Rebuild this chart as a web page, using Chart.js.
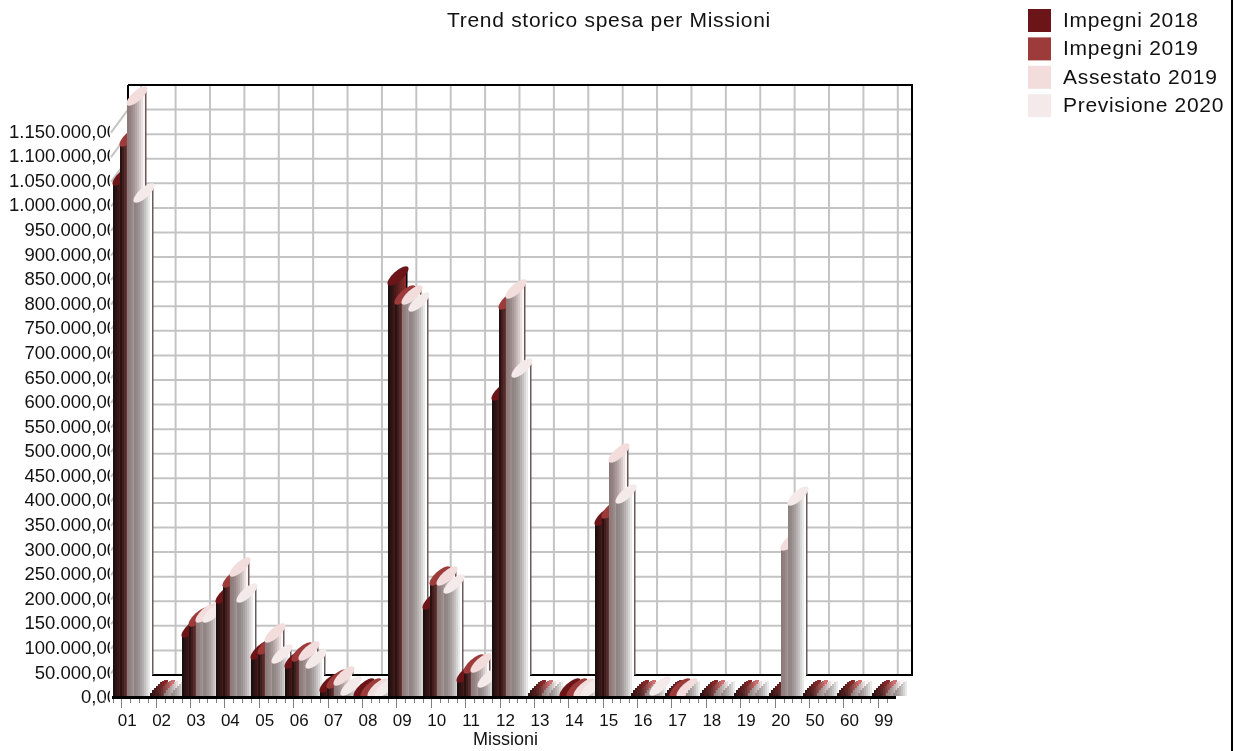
<!DOCTYPE html>
<html>
<head>
<meta charset="utf-8">
<title>Trend storico spesa per Missioni</title>
<script src="https://cdn.jsdelivr.net/npm/chart.js@4/dist/chart.umd.min.js"></script>
<style>
  html, body { margin: 0; padding: 0; background: #fff; }
  canvas { display: block; }
</style>
</head>
<body>
<canvas id="missioniChart" width="1241" height="751"></canvas>
<script>
// ── Data ───────────────────────────────────────────────────────

const chartTitle = "Trend storico spesa per Missioni";
const axisTitle = "Missioni";
const missioni = ["01","02","03","04","05","06","07","08","09","10","11","12","13","14","15","16","17","18","19","20","50","60","99"];

const impegni2018 = [1043000,0,124000,193000,79000,61000,12000,3000,840000,181000,33000,606000,0,3000,352000,0,0,0,0,0,0,0,0];
const impegni2019 = [1123000,0,146000,226000,90000,75000,20000,3000,801000,230000,51000,791000,0,3000,366000,0,3000,0,0,0,0,0,0];
const assestato2019 = [1206000,0,155000,248000,114000,77000,26000,3000,801000,230000,53000,814000,0,3000,480000,0,3000,0,0,301000,0,0,0];
const previsione2020 = [1009000,0,155000,195000,71000,61000,6000,3000,787000,213000,22000,653000,0,3000,397000,6000,0,0,0,393000,0,0,0];

const yMax = 1200000;
const yStep = 50000;

// ── Look ───────────────────────────────────────────────────────

const FONT = '"Liberation Sans", Arial, sans-serif';
const DEPTH_X = 17, DEPTH_Y = 23;      // back wall offset from the front plane
const CYL_W = 20, CYL_RISE = 18;       // each bar is a 20px cylinder seen from above
const CYL_CAP = 5;                     // half thickness of the slanted top
const STRIP = 2;

const shades = [
  { top: "#6B1518", from: [28, 15, 15], to: [138, 43, 43], edge: "#000000", gamma: 1 },
  { top: "#9D3A3A", from: [42, 18, 18], to: [208, 112, 112], edge: "#3a1515", gamma: 1 },
  { top: "#F2DCDC", from: [141, 123, 123], to: [253, 245, 245], edge: "#6a5555", gamma: 1.5 },
  { top: "#F5EAEA", from: [142, 132, 132], to: [255, 255, 255], edge: "#6a5a5a", gamma: 1.5 },
];

function formatIt(v) {
  const whole = String(v).replace(/\B(?=(\d{3})+(?!\d))/g, ".");
  return whole + ",00";
}

function line(ctx, x1, y1, x2, y2) {
  ctx.beginPath();
  ctx.moveTo(x1, y1);
  ctx.lineTo(x2, y2);
  ctx.stroke();
}

// ── Plugin: fake 3D box, cylinders, legend ─────────────────────

function drawWalls(chart) {
  const { ctx, scales: { x, y } } = chart;
  const left = x.left + 18, right = left + 784;
  const back = (v) => y.getPixelForValue(v) - DEPTH_Y;

  ctx.save();
  ctx.strokeStyle = "#c4c4c4";
  ctx.lineWidth = 2;
  for (let v = yStep; v < yMax; v += yStep) {
    line(ctx, left, back(v), right, back(v));
    line(ctx, left, back(v), left - DEPTH_X, y.getPixelForValue(v));
  }
  missioni.forEach((m, i) => {
    const gx = x.getPixelForTick(i) + 14;
    line(ctx, gx, back(yMax), gx, back(0));
  });
  ctx.strokeStyle = "#000";
  line(ctx, left, back(yMax), right + 1, back(yMax));
  line(ctx, right, back(yMax), right, back(0));
  line(ctx, left, back(yMax), left, back(0));
  line(ctx, left, back(0), right + 1, back(0));
  ctx.restore();
}

function drawCylinder(ctx, el, shade, isZero) {
  const x0 = Math.round(el.x - el.width / 2);
  const yTop = Math.round(el.y), base = Math.round(el.base) - 2;
  const n = Math.floor(CYL_W / STRIP);

  for (let i = 0; i < n; i++) {
    const t = Math.pow(Math.min(i / (n - 2), 1), shade.gamma);
    const sx = x0 + i * STRIP;
    let sy = yTop - CYL_RISE * (i * STRIP) / CYL_W;
    // nothing paid: no cap is drawn, the shaded body shows the whole slanted disc
    if (isZero) {
      const u = (2 * i + 1) / n - 1;
      sy -= CYL_CAP * Math.sqrt(1 - u * u);
    }
    sy = Math.round(sy);
    if (i === n - 1) {
      const edgeBottom = base - DEPTH_Y + 2;
      if (edgeBottom > sy) {
        ctx.fillStyle = shade.edge;
        ctx.fillRect(sx, sy, STRIP - 0.5, edgeBottom - sy);
        continue;
      }
    }
    const c = shade.from.map((f, k) => Math.round(f + (shade.to[k] - f) * t));
    ctx.fillStyle = `rgb(${c[0]},${c[1]},${c[2]})`;
    if (base > sy) ctx.fillRect(sx, sy, STRIP, base - sy);
  }

  if (!isZero) {
    ctx.fillStyle = shade.top;
    ctx.beginPath();
    ctx.ellipse(x0 + CYL_W / 2, yTop - CYL_RISE / 2, Math.hypot(CYL_W, CYL_RISE) / 2, CYL_CAP,
      Math.atan2(-CYL_RISE, CYL_W), 0, Math.PI * 2);
    ctx.fill();
  }
}

function drawFloorAndTicks(chart) {
  const { ctx, scales: { x, y } } = chart;
  const floorY = y.getPixelForValue(0);
  ctx.save();
  ctx.strokeStyle = "#808080";
  ctx.lineWidth = 1;
  missioni.forEach((m, i) => {
    const tx = Math.round(x.getPixelForTick(i) - 6) + 0.5;
    line(ctx, tx, floorY, tx, floorY + 10);
    [-2, -1, 1].forEach((k) => {
      const mx = Math.round(tx + k * 8.6) + 0.5;
      line(ctx, mx, floorY, mx, floorY + 5);
    });
  });
  ctx.fillStyle = "#000";
  ctx.fillRect(x.left + 2, floorY - 2, 784, 3);
  ctx.restore();
}

function drawHeader(chart) {
  const { ctx } = chart;
  ctx.save();
  ctx.fillStyle = "#111";
  ctx.textBaseline = "middle";
  ctx.textAlign = "center";
  ctx.font = `21px ${FONT}`;
  ctx.letterSpacing = "0.7px";
  ctx.fillText(chartTitle, 609, 21);

  ctx.textAlign = "left";
  chart.data.datasets.forEach((ds, i) => {
    const top = 9 + i * 28.4;
    ctx.fillStyle = ds.backgroundColor;
    ctx.fillRect(1028, top, 23, 23);
    ctx.fillStyle = "#111";
    ctx.fillText(ds.label, 1063, top + 12);
  });
  ctx.restore();

  // page frame on the right
  ctx.fillStyle = "#000";
  ctx.fillRect(1231, 0, 2, 751);
}

const resketch3d = {
  id: "resketch3d",
  beforeDraw: drawWalls,
  beforeDatasetsDraw(chart) {
    const { ctx } = chart;
    ctx.save();
    missioni.forEach((m, j) => {
      chart.data.datasets.forEach((ds, i) => {
        const el = chart.getDatasetMeta(i).data[j];
        drawCylinder(ctx, el, shades[i], ds.data[j] === 0);
      });
    });
    ctx.restore();
    drawFloorAndTicks(chart);
    return false;   // bars are painted above, skip the flat ones
  },
  afterDraw: drawHeader,
};

// ── Chart ──────────────────────────────────────────────────────

new Chart(document.getElementById("missioniChart"), {
  type: "bar",
  plugins: [resketch3d],
  data: {
    labels: missioni,
    datasets: [
      { label: "Impegni 2018", data: impegni2018, backgroundColor: "#6B1518" },
      { label: "Impegni 2019", data: impegni2019, backgroundColor: "#9D3A3A" },
      { label: "Assestato 2019", data: assestato2019, backgroundColor: "#F2DCDC" },
      { label: "Previsione 2020", data: previsione2020, backgroundColor: "#F5EAEA" },
    ],
  },
  options: {
    responsive: false,
    animation: false,
    layout: { padding: { top: 108, right: 340, left: 0, bottom: 0 } },
    datasets: { bar: { categoryPercentage: 0.814, barPercentage: 1 } },
    plugins: { legend: { display: false }, title: { display: false }, tooltip: { enabled: false } },
    scales: {
      x: {
        grid: { display: false, drawTicks: false },
        border: { display: false },
        ticks: { color: "#111", padding: 13, maxRotation: 0, autoSkip: false, font: { family: FONT, size: 17 } },
        title: { display: true, text: axisTitle, color: "#111", padding: { top: 0, bottom: 0 }, font: { family: FONT, size: 18 } },
        afterFit(s) { s.height = 53; },
      },
      y: {
        min: 0,
        max: yMax,
        grid: { display: false, drawTicks: false },
        border: { display: false },
        ticks: {
          stepSize: yStep,
          autoSkip: false,
          color: "#111",
          padding: -7,
          font: { family: FONT, size: 18.5 },
          callback: (v) => (v >= yMax ? "" : formatIt(v)),
        },
        afterFit(s) { s.width = 110; },
      },
    },
  },
});
</script>
</body>
</html>
